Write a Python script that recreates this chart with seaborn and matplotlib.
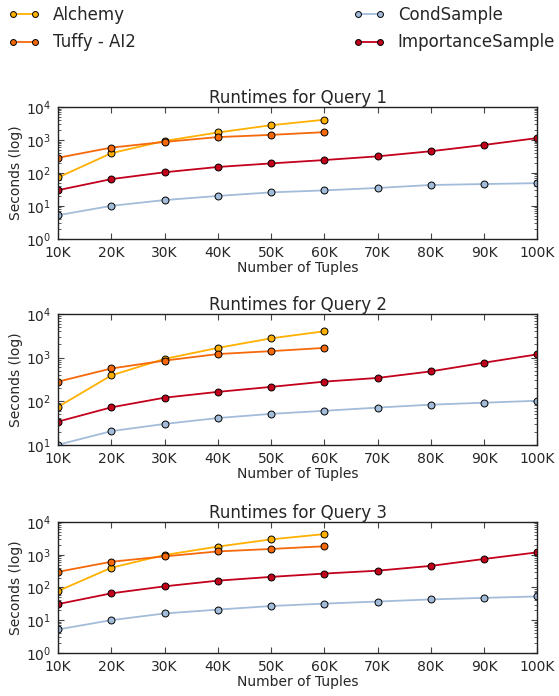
import matplotlib
matplotlib.use("Agg")
import matplotlib.pyplot as plt
import seaborn as sns
import pandas as pd
from matplotlib.ticker import LogLocator, NullFormatter

tuples = [10000, 20000, 30000, 40000, 50000, 60000, 70000, 80000, 90000, 100000]
tick_labels = ["10K", "20K", "30K", "40K", "50K", "60K", "70K", "80K", "90K", "100K"]
methods = ["Alchemy", "Tuffy - AI2", "CondSample", "ImportanceSample"]

# Query 1
q1_alchemy = [73, 400, 940, 1700, 2830, 4150]
q1_tuffy = [290, 590, 880, 1230, 1440, 1740]
q1_cond = [5.2, 10, 15, 20, 25.7, 29.5, 35, 43, 46, 49]
q1_importance = [30, 65, 105, 152, 195, 247, 320, 457, 710, 1150]

# Query 2
q2_alchemy = [74, 390, 930, 1660, 2750, 4000]
q2_tuffy = [280, 560, 850, 1200, 1400, 1660]
q2_cond = [10, 20.5, 30, 41, 51, 60, 71, 83, 92, 102]
q2_importance = [34, 72, 120, 163, 212, 280, 340, 480, 760, 1180]

# Query 3
q3_alchemy = [78, 400, 980, 1770, 2940, 4270]
q3_tuffy = [300, 610, 890, 1260, 1500, 1810]
q3_cond = [5.2, 10, 16, 21, 27, 32, 37, 43, 48, 53]
q3_importance = [31, 66, 108, 161, 210, 265, 325, 455, 740, 1180]

queries = [
    ("Runtimes for Query 1", [q1_alchemy, q1_tuffy, q1_cond, q1_importance], (1, 1e4)),
    ("Runtimes for Query 2", [q2_alchemy, q2_tuffy, q2_cond, q2_importance], (10, 1e4)),
    ("Runtimes for Query 3", [q3_alchemy, q3_tuffy, q3_cond, q3_importance], (1, 1e4)),
]

palette = {
    "Alchemy": "#ffb000",
    "Tuffy - AI2": "#f5690a",
    "CondSample": "#a3bcd9",
    "ImportanceSample": "#c3001c",
}

sns.set_style("ticks")
plt.rcParams["font.family"] = ["DejaVu Sans"]
plt.rcParams["mathtext.default"] = "regular"

fig = plt.figure(figsize=(5.59, 6.96), dpi=100)
positions = [(0.104, 0.657, 0.857, 0.189), (0.104, 0.361, 0.857, 0.188), (0.104, 0.062, 0.857, 0.188)]

for i, ((title, series, ylim), pos) in enumerate(zip(queries, positions)):
    ax = fig.add_axes(pos)
    rows = []
    for m, vals in zip(methods, series):
        for x, v in zip(tuples, vals):
            rows.append({"tuples": x, "seconds": v, "method": m})
    df = pd.DataFrame(rows)
    sns.lineplot(data=df, x="tuples", y="seconds", hue="method", hue_order=methods,
                 palette=palette, marker="o", markersize=5, markeredgecolor="black",
                 markeredgewidth=0.7, linewidth=1.3, ax=ax, legend=(i == 0))
    ax.set_yscale("log")
    ax.set_ylim(*ylim)
    ax.set_xlim(10000, 100000)
    ax.set_xticks(tuples)
    ax.set_xticklabels(tick_labels)
    ax.yaxis.set_major_locator(LogLocator(base=10, numticks=10))
    ax.yaxis.set_minor_locator(LogLocator(base=10, subs=range(2, 10), numticks=20))
    ax.yaxis.set_minor_formatter(NullFormatter())
    ax.tick_params(axis="both", which="major", direction="in", length=4, width=0.8,
                   labelsize=10, top=True, right=True, color="#444444", pad=5)
    ax.tick_params(axis="y", which="minor", direction="in", length=2, width=0.6,
                   left=True, right=True, color="#444444")
    ax.tick_params(axis="x", which="minor", bottom=False, top=False)
    for s in ax.spines.values():
        s.set_color("#222222")
        s.set_linewidth(1.0)
    ax.set_title(title, fontsize=12, pad=3)
    ax.set_xlabel("Number of Tuples", fontsize=10, labelpad=1)
    ax.set_ylabel("Seconds (log)", fontsize=10, labelpad=2)
    if i == 0:
        handles, labels = ax.get_legend_handles_labels()
        ax.get_legend().remove()

leg = fig.legend(handles, labels, loc="upper left", bbox_to_anchor=(0.0, 1.003), ncol=2,
                 frameon=False, fontsize=12, handlelength=1.9, handletextpad=0.8,
                 columnspacing=13.0, markerscale=0.85, numpoints=2,
                 borderaxespad=0.1, labelspacing=0.55)

fig.savefig("out.png", dpi=100)
